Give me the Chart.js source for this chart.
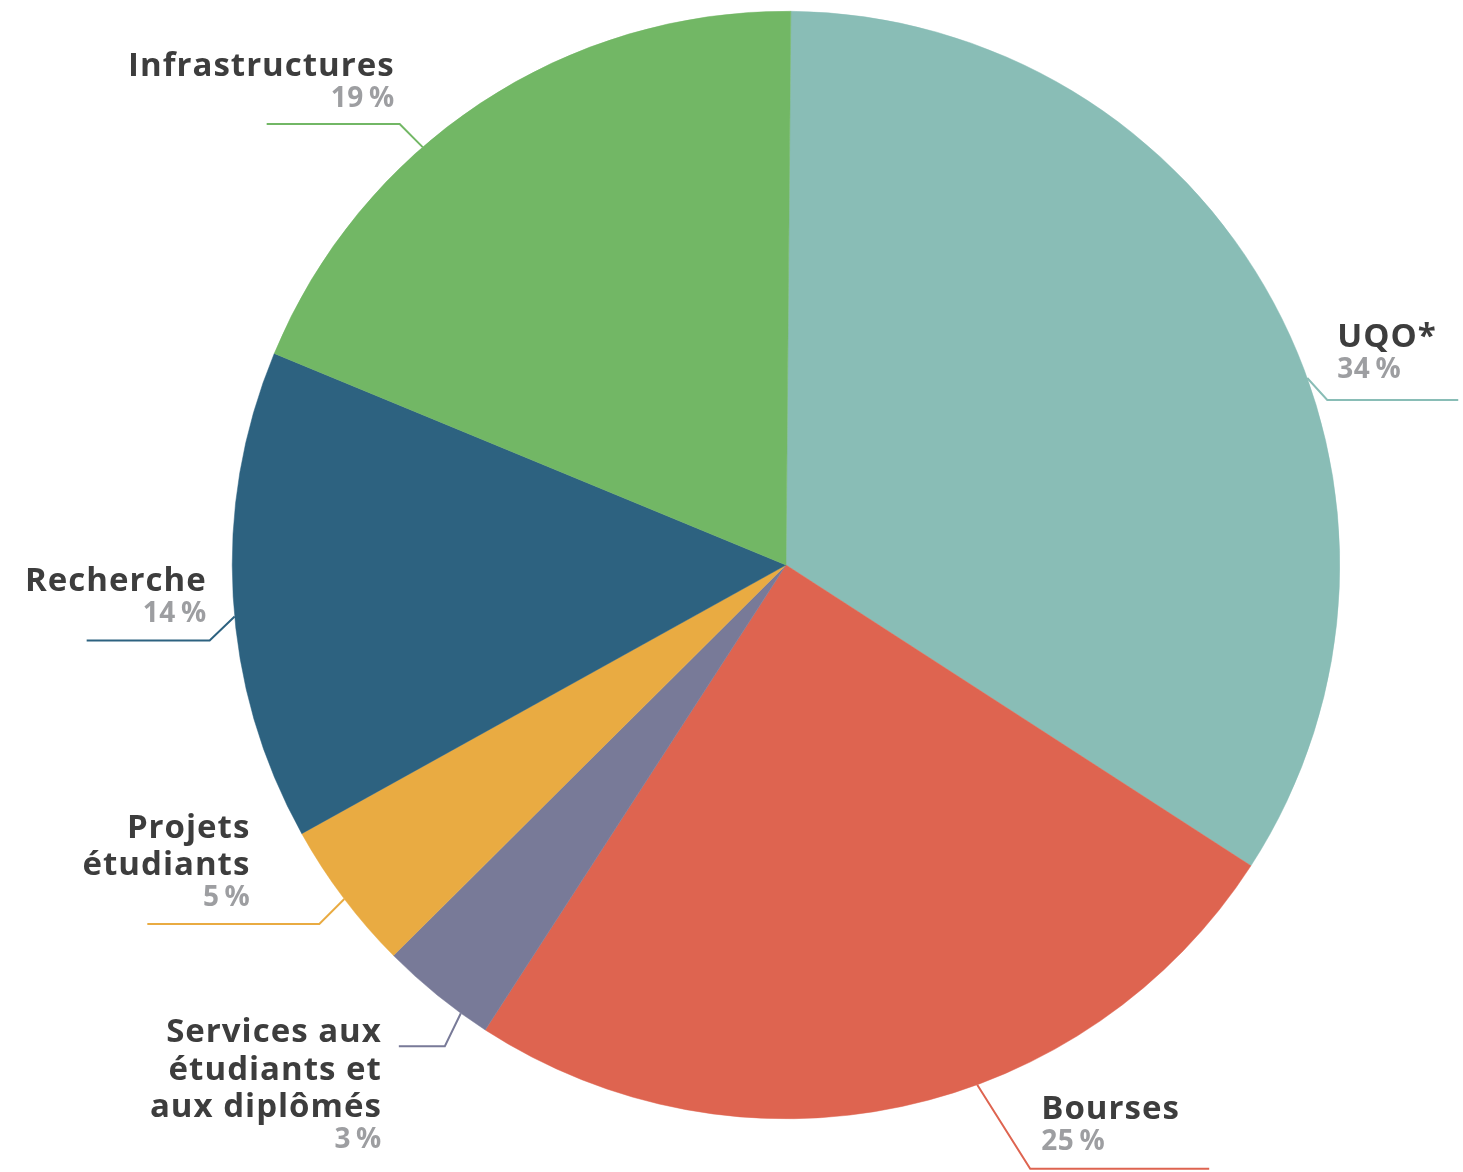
<!DOCTYPE html>
<html>
<head>
    <meta charset="utf-8">
    <script src="https://cdn.jsdelivr.net/npm/chart.js@4/dist/chart.umd.min.js"></script>
    <style>
        body { margin: 0; background: #fff; }
        .wrap { width: 1463px; height: 1172px; position: relative; }
    </style>
</head>
<body>
    <div class="wrap">
        <canvas id="myChart"></canvas>
    </div>

    <script>
        // data (share of budget, %)
        const categories = ['UQO*', 'Bourses', 'Services aux étudiants et aux diplômés', 'Projets étudiants', 'Recherche', 'Infrastructures'];
        const values = [34.0, 25.0, 3.4, 4.4, 14.3, 18.9];
        const pctLabels = ['34\u2009%', '25\u2009%', '3\u2009%', '5\u2009%', '14\u2009%', '19\u2009%'];
        const nameLines = [['UQO*'], ['Bourses'], ['Services aux', 'étudiants et', 'aux diplômés'], ['Projets', 'étudiants'], ['Recherche'], ['Infrastructures']];
        const colors = ['#89bdb6', '#de6450', '#787a98', '#e9ab42', '#2d6280', '#72b765'];

        // where each leader line leaves its slice and how the label hangs off the elbow
        const leaders = [
            { at: 0.57, dx: 20, dy: 22, len: 131, side: 'right', tx: 10, ty: -22 },
            { at: 0.41, dx: 53, dy: 84, len: 179, side: 'right', tx: 11, ty: -19 },
            { at: 0.25, dx: -16, dy: 33, len: 46, side: 'left', tx: -63, ty: 102 },
            { at: 0.49, dx: -25, dy: 25, len: 172, side: 'left', tx: -69, ty: -18 },
            { at: 0.46, dx: -25, dy: 24, len: 123, side: 'left', tx: -3, ty: -19 },
            { at: 0.39, dx: -23, dy: -23, len: 133, side: 'left', tx: -5, ty: -17 }
        ];

        const FONT = '"Open Sans", "Noto Sans", sans-serif';

        const leaderLabels = {
            id: 'leaderLabels',
            afterDraw(chart) {
                const ctx = chart.ctx;
                const meta = chart.getDatasetMeta(0);
                meta.data.forEach(function (arc, i) {
                    const p = arc.getProps(['x', 'y', 'startAngle', 'endAngle', 'outerRadius'], true);
                    const L = leaders[i];
                    const a = p.startAngle + (p.endAngle - p.startAngle) * L.at;
                    const sx = p.x + Math.cos(a) * p.outerRadius;
                    const sy = p.y + Math.sin(a) * p.outerRadius;
                    const ex = sx + L.dx;
                    const ey = sy + L.dy;
                    const hx = L.side === 'right' ? ex + L.len : ex - L.len;

                    ctx.save();
                    ctx.strokeStyle = colors[i];
                    ctx.lineWidth = 2;
                    ctx.beginPath();
                    ctx.moveTo(sx, sy);
                    ctx.lineTo(ex, ey);
                    ctx.lineTo(hx, ey);
                    ctx.stroke();

                    ctx.textAlign = L.side === 'right' ? 'left' : 'right';
                    ctx.textBaseline = 'alphabetic';
                    const tx = ex + L.tx;
                    const pctY = ey + L.ty;
                    ctx.fillStyle = '#9d9ea1';
                    ctx.font = 'bold 28px ' + FONT;
                    ctx.letterSpacing = '0.5px';
                    ctx.fillText(pctLabels[i], tx, pctY);

                    ctx.fillStyle = '#3d3d3d';
                    ctx.font = 'bold 33px ' + FONT;
                    ctx.letterSpacing = '1px';
                    const lines = nameLines[i];
                    for (let k = 0; k < lines.length; k++) {
                        const y = pctY - 31 - (lines.length - 1 - k) * 37.5;
                        ctx.fillText(lines[k], tx, y);
                    }
                    ctx.restore();
                });
            }
        };

        const config = {
            type: 'pie',
            data: {
                labels: categories,
                datasets: [{
                    data: values,
                    backgroundColor: colors,
                    borderColor: colors,
                    borderWidth: 0.5,
                    hoverOffset: 0
                }]
            },
            options: {
                responsive: true,
                maintainAspectRatio: false,
                animation: false,
                rotation: 0.5,
                layout: {
                    padding: { top: 11, bottom: 53, left: 232, right: 123 }
                },
                plugins: {
                    legend: { display: false },
                    tooltip: { enabled: false },
                    title: { display: false }
                }
            },
            plugins: [leaderLabels]
        };

        var chart = new Chart(
            document.getElementById('myChart'),
            config
        );
    </script>
</body>
</html>
